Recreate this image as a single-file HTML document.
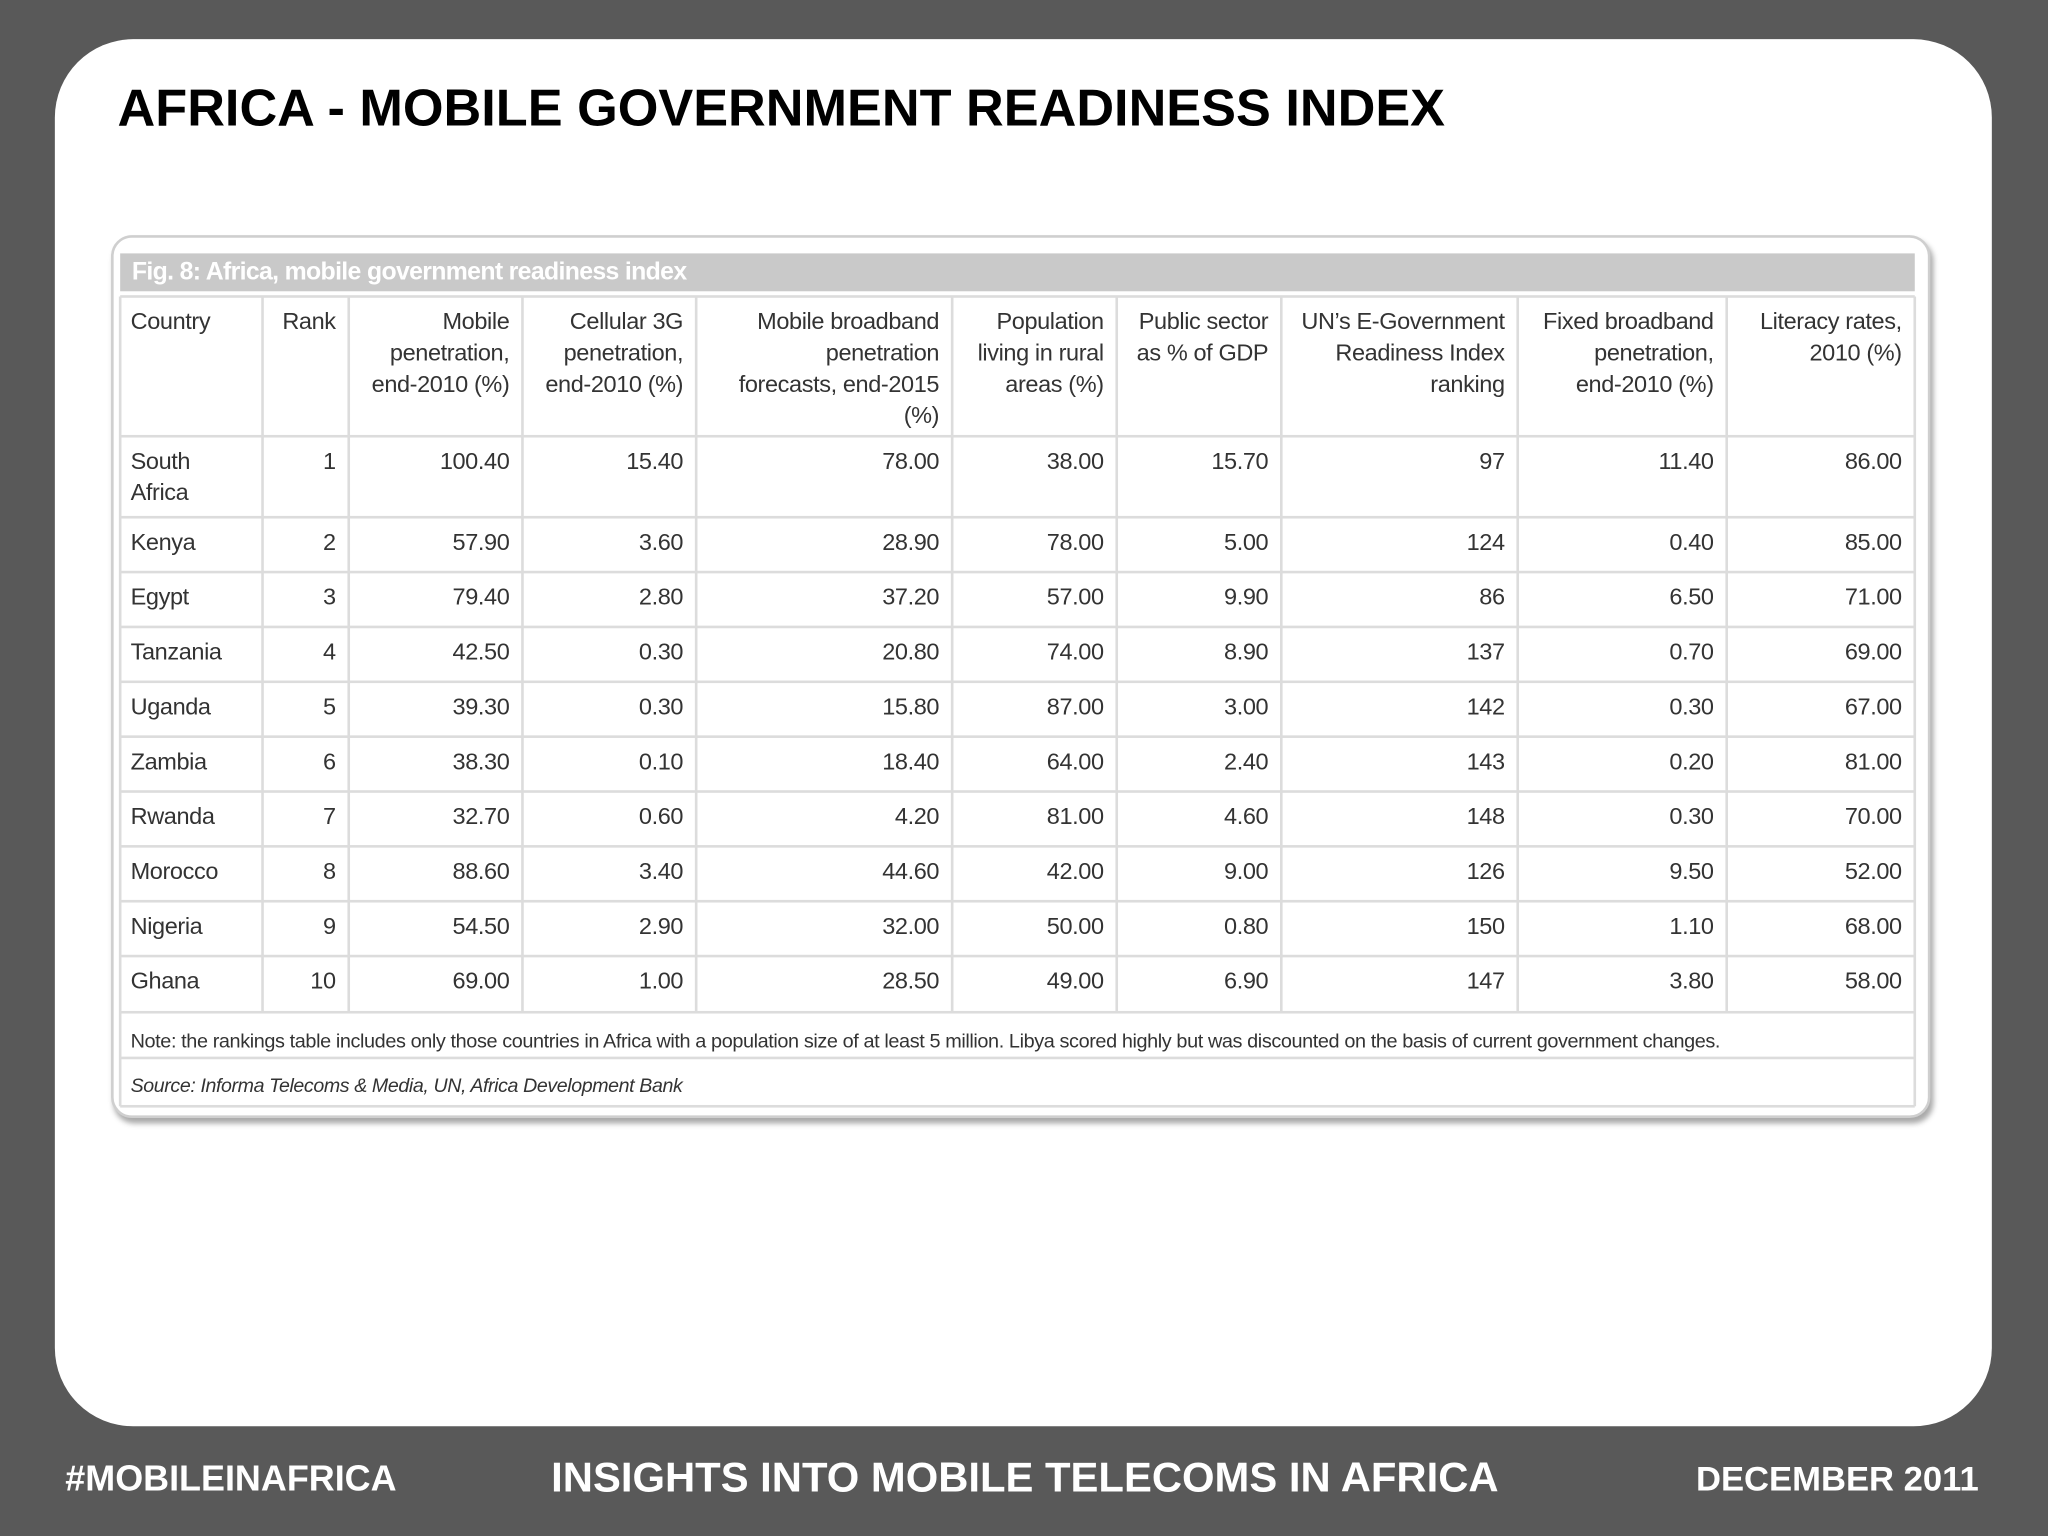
<!DOCTYPE html>
<html><head><meta charset="utf-8">
<style>
html,body{margin:0;padding:0;width:2048px;height:1536px;overflow:hidden;background:#595959;}
#wrap{position:absolute;left:0;top:0;width:1568px;height:1176px;transform:scale(1.306122);transform-origin:0 0;font-family:"Liberation Sans",sans-serif;}
#panel{position:absolute;left:42px;top:30px;width:1483px;height:1062px;background:#fff;border-radius:60px;}
#title{position:absolute;left:90px;top:61px;font-size:40px;font-weight:bold;color:#000;letter-spacing:0px;}
#frame{position:absolute;left:85px;top:180px;width:1389px;height:672px;border:2px solid #cfcfcf;border-radius:16px;box-shadow:2px 4px 4px #aaa;background:#fff;}
#figbar{position:absolute;left:92px;top:194px;width:1374px;height:29px;background:#c9c9c9;color:#fff;font-family:"Liberation Sans",sans-serif;font-weight:bold;font-size:19px;line-height:29px;padding-left:9px;box-sizing:border-box;letter-spacing:-0.5px;}
.cell{position:absolute;box-sizing:border-box;font-family:"Liberation Sans",sans-serif;font-size:18px;letter-spacing:-0.3px;color:#333;line-height:24px;padding:7px 10px 0 8px;}
.vl{position:absolute;width:2px;background:#dcdcdc;}
.hl{position:absolute;height:2px;background:#dcdcdc;}
.foot{position:absolute;top:1114px;color:#fff;font-weight:bold;}
</style></head><body>
<div id="wrap">
<div id="panel"></div>
<div id="title">AFRICA - MOBILE GOVERNMENT READINESS INDEX</div>
<div id="frame"></div>
<div id="figbar">Fig. 8: Africa, mobile government readiness index</div>
<div class="cell" style="left:92px;top:779px;font-size:15.2px;letter-spacing:-0.3px;">Note: the rankings table includes only those countries in Africa with a population size of at least 5 million. Libya scored highly but was discounted on the basis of current government changes.</div>
<div class="cell" style="left:92px;top:813px;font-size:15px;font-style:italic;">Source: Informa Telecoms &amp; Media, UN, Africa Development Bank</div>
<div class="foot" style="left:50px;font-size:27.5px;top:1116px;">#MOBILEINAFRICA</div>
<div class="foot" style="left:422px;font-size:32px;top:1113px;">INSIGHTS INTO MOBILE TELECOMS IN AFRICA</div>
<div class="foot" style="right:53px;font-size:26.5px;top:1117px;">DECEMBER 2011</div>
</div>
<script>
const headers=["Country","Rank","Mobile<br>penetration,<br>end-2010 (%)","Cellular 3G<br>penetration,<br>end-2010 (%)","Mobile broadband<br>penetration<br>forecasts, end-2015<br>(%)","Population<br>living in rural<br>areas (%)","Public sector<br>as % of GDP","UN’s E-Government<br>Readiness Index<br>ranking","Fixed broadband<br>penetration,<br>end-2010 (%)","Literacy rates,<br>2010 (%)"];
const countries=["South<br>Africa","Kenya","Egypt","Tanzania","Uganda","Zambia","Rwanda","Morocco","Nigeria","Ghana"];
const ranks=["1","2","3","4","5","6","7","8","9","10"];
const mobilePen=["100.40","57.90","79.40","42.50","39.30","38.30","32.70","88.60","54.50","69.00"];
const cell3g=["15.40","3.60","2.80","0.30","0.30","0.10","0.60","3.40","2.90","1.00"];
const mbbForecast=["78.00","28.90","37.20","20.80","15.80","18.40","4.20","44.60","32.00","28.50"];
const rural=["38.00","78.00","57.00","74.00","87.00","64.00","81.00","42.00","50.00","49.00"];
const publicSector=["15.70","5.00","9.90","8.90","3.00","2.40","4.60","9.00","0.80","6.90"];
const egovRank=["97","124","86","137","142","143","148","126","150","147"];
const fixedBB=["11.40","0.40","6.50","0.70","0.30","0.20","0.30","9.50","1.10","3.80"];
const literacy=["86.00","85.00","71.00","69.00","67.00","81.00","70.00","52.00","68.00","58.00"];
const cols=[countries,ranks,mobilePen,cell3g,mbbForecast,rural,publicSector,egovRank,fixedBB,literacy];
const colX=[92,201,267,400,533,729,855,981,1162,1322,1466];
const rowY=[227,334,396,438,480,522,564,606,648,690,732,775,810,847];
const t=document.getElementById('wrap');
function add(cls,style,name){const d=document.createElement('div');d.className=cls;d.setAttribute('style',style);


t.appendChild(d);return d;}
for(let c=0;c<10;c++){
  const align=c===0?'left':'right';
  const h=add('cell',`left:${colX[c]}px;top:${rowY[0]}px;width:${colX[c+1]-colX[c]}px;text-align:${align};white-space:nowrap;`,'column-header');
  h.innerHTML=headers[c];
  for(let r=0;r<10;r++){
    const d=add('cell',`left:${colX[c]}px;top:${rowY[r+1]}px;width:${colX[c+1]-colX[c]}px;text-align:${align};white-space:nowrap;`,'table-cell');
    d.innerHTML=cols[c][r];
  }
}
for(let i=0;i<colX.length;i++){
  add('vl',`left:${colX[i]-1}px;top:${rowY[0]}px;height:${(i===0||i===10?rowY[13]:rowY[11])-rowY[0]}px;`,'column-divider');
}
for(let j=0;j<rowY.length;j++){
  add('hl',`left:${colX[0]}px;top:${rowY[j]-1}px;width:${colX[10]-colX[0]}px;`,'row-divider');
}
</script>
</body></html>
